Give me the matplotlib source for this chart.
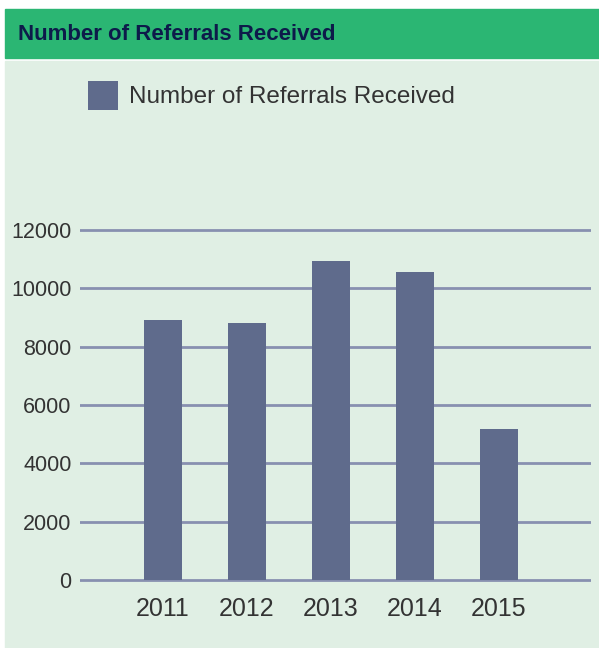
import matplotlib
matplotlib.use("Agg")
import matplotlib.pyplot as plt
from matplotlib.patches import Rectangle

# data
years = ["2011", "2012", "2013", "2014", "2015"]
referrals = [8900, 8800, 10950, 10560, 5180]
y_ticks = [0, 2000, 4000, 6000, 8000, 10000, 12000]

title = "Number of Referrals Received"
series_name = "Number of Referrals Received"

W, H = 599, 648
fig = plt.figure(figsize=(W / 100, H / 100), dpi=100)
fig.patch.set_facecolor("white")

# header band + light panel
fig.patches.append(Rectangle((5 / W, 1 - 58 / H), 594 / W, 49 / H,
                             transform=fig.transFigure, color="#2bb673", zorder=-10))
fig.patches.append(Rectangle((5 / W, 0), 594 / W, 1 - 61 / H,
                             transform=fig.transFigure, color="#e0efe4", zorder=-10))
fig.text(18 / W, 1 - 34 / H, title, fontsize=16, fontweight="bold",
         color="#0d1a4a", va="center", ha="left", family="Liberation Sans")

ax = fig.add_axes([80 / W, 1 - 585.8 / H, 511 / W, 361.6 / H])
ax.set_facecolor("none")

x = list(range(len(years)))
ax.bar(x, referrals, width=0.45, color="#5f6b8c", zorder=3, label=series_name)

for t in y_ticks:
    ax.axhline(t, color="#8890b0", lw=2, zorder=1)

ax.set_xlim(-0.99, 5.1)
ax.set_ylim(-200, 12200)
ax.set_yticks(y_ticks)
ax.set_xticks(x)
ax.set_xticklabels(years)
ax.tick_params(length=0, labelcolor="#333333")
ax.tick_params(axis="y", pad=6, labelsize=15.5)
ax.tick_params(axis="x", pad=8, labelsize=18)
for lab in ax.get_xticklabels() + ax.get_yticklabels():
    lab.set_family("Liberation Sans")
for s in ax.spines.values():
    s.set_visible(False)

fig.legend(loc="upper left", bbox_to_anchor=(88 / W, 1 - 81 / H), frameon=False,
           borderpad=0, borderaxespad=0, handlelength=1.23, handleheight=1.45,
           handletextpad=0.45, prop={"family": "Liberation Sans", "size": 17.5},
           labelcolor="#333333")

fig.savefig("out.png", dpi=100)
